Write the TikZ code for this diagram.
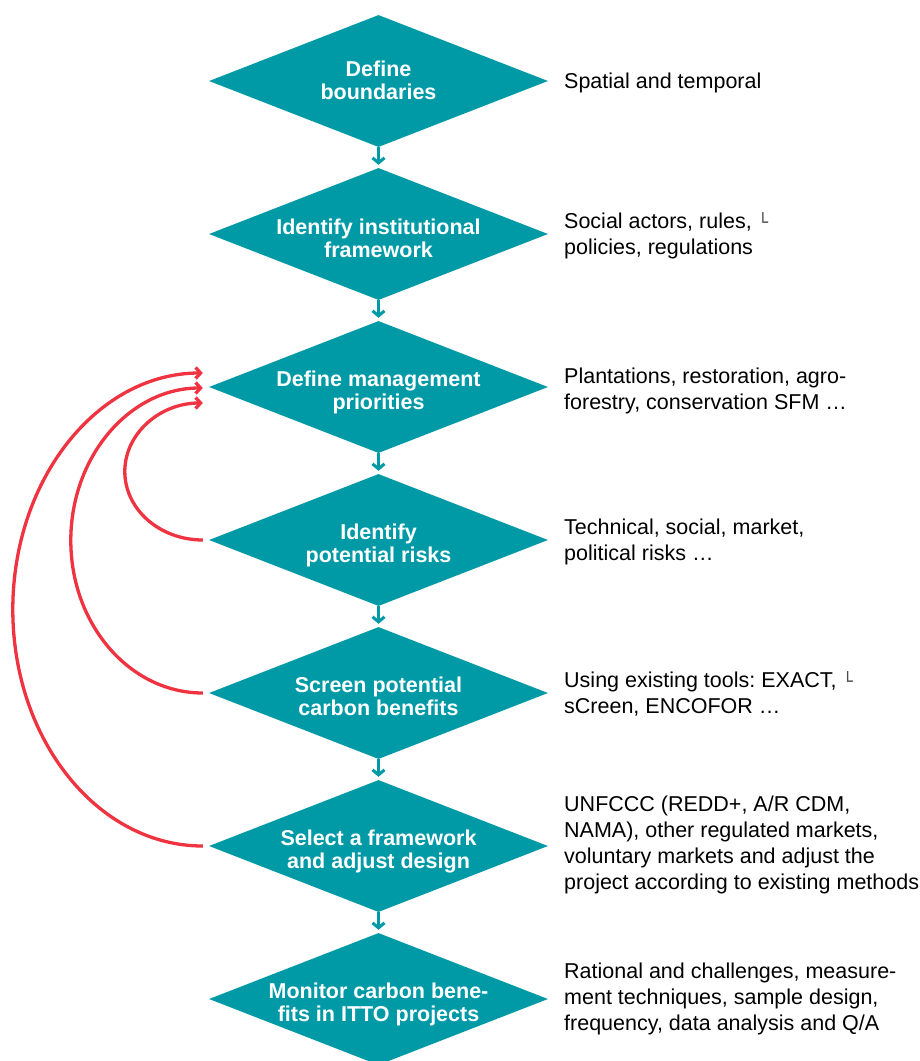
\documentclass[tikz,border=0pt]{standalone}
\usepackage{fontspec}
\setmainfont{Liberation Sans}
\newfontfamily\djv{DejaVu Sans}
\usetikzlibrary{shapes.geometric,arrows.meta}
\definecolor{tealA}{RGB}{0,154,167}
\definecolor{fbred}{RGB}{239,51,64}
\newcommand{\brkmark}{{\djv\fontsize{17}{17}\selectfont\color{black!70}└}}
\begin{document}
\frenchspacing
\begin{tikzpicture}[x=1pt,y=1pt,
 dia/.style={diamond, fill=tealA, draw=none, minimum width=339pt, minimum height=132pt, inner sep=0pt, aspect=2.57},
 dtxt/.style={text=white, font=\fontsize{21.5}{23}\selectfont\bfseries, align=center, inner sep=0pt, text depth=0pt},
 rtxt/.style={anchor=west, font=\fontsize{21.5}{26}\selectfont, align=left, inner sep=0pt, text depth=0pt},
 link/.style={tealA, line width=3pt, -{Straight Barb[length=5pt,width=12pt]}, shorten >=3pt},
 fb/.style={fbred, line width=3.3pt, -{Straight Barb[length=5pt,width=11pt]}}]
\useasboundingbox (0,0) rectangle (920,-1061);
\fill[white] (0,0) rectangle (920,-1061);
% diamonds
\node[dia] (d1) at (378.5,-81) {};
\node[dia] (d2) at (378.5,-234) {};
\node[dia] (d3) at (378.5,-387) {};
\node[dia] (d4) at (378.5,-540) {};
\node[dia] (d5) at (378.5,-693) {};
\node[dia] (d6) at (378.5,-846) {};
\node[dia] (d7) at (378.5,-999) {};
% diamond texts
\node[dtxt] (t1) at ([yshift=1pt]d1.center) {Define\\boundaries};
\node[dtxt] (t2) at ([yshift=-4pt]d2.center) {Identify institutional\\framework};
\node[dtxt] (t3) at ([yshift=-3pt]d3.center) {Define management\\priorities};
\node[dtxt] (t4) at ([yshift=-3pt]d4.center) {Identify\\potential risks};
\node[dtxt] (t5) at ([yshift=-3pt]d5.center) {Screen potential\\carbon benefits};
\node[dtxt] (t6) at ([yshift=-3pt]d6.center) {Select a framework\\and adjust design};
\node[dtxt] (t7) at ([yshift=-3pt]d7.center) {Monitor carbon bene-\\fits in ITTO projects};
% right texts
\node[rtxt] (r1) at (564,-81) {Spatial and temporal};
\node[rtxt] (r2) at (564,-234) {Social actors, rules, \brkmark\\policies, regulations};
\node[rtxt] (r3) at (564,-389) {Plantations, restoration, agro-\\forestry, conservation SFM …};
\node[rtxt] (r4) at (564,-540) {Technical, social, market,\\political risks …};
\node[rtxt] (r5) at (564,-693) {Using existing tools: EXACT, \brkmark\\sCreen, ENCOFOR …};
\node[rtxt] (r6) at (564,-843) {UNFCCC (REDD+, A/R CDM,\\NAMA), other regulated markets,\\voluntary markets and adjust the\\project according to existing methods};
\node[rtxt] (r7) at (564,-997) {Rational and challenges, measure-\\ment techniques, sample design,\\frequency, data analysis and Q/A};
% links
\draw[link] (d1.south) -- (d2.north);
\draw[link] (d2.south) -- (d3.north);
\draw[link] (d3.south) -- (d4.north);
\draw[link] (d4.south) -- (d5.north);
\draw[link] (d5.south) -- (d6.north);
\draw[link] (d6.south) -- (d7.north);
% feedback arcs
\draw[fb] ([xshift=-6pt]d4.west) arc[start angle=270, end angle=90, x radius=78, y radius=68.5];
\draw[fb] ([xshift=-6pt]d5.west) arc[start angle=270, end angle=90, x radius=132, y radius=152.5];
\draw[fb] ([xshift=-6pt]d6.west) arc[start angle=270, end angle=90, x radius=190, y radius=236.5];
\end{tikzpicture}
\end{document}
